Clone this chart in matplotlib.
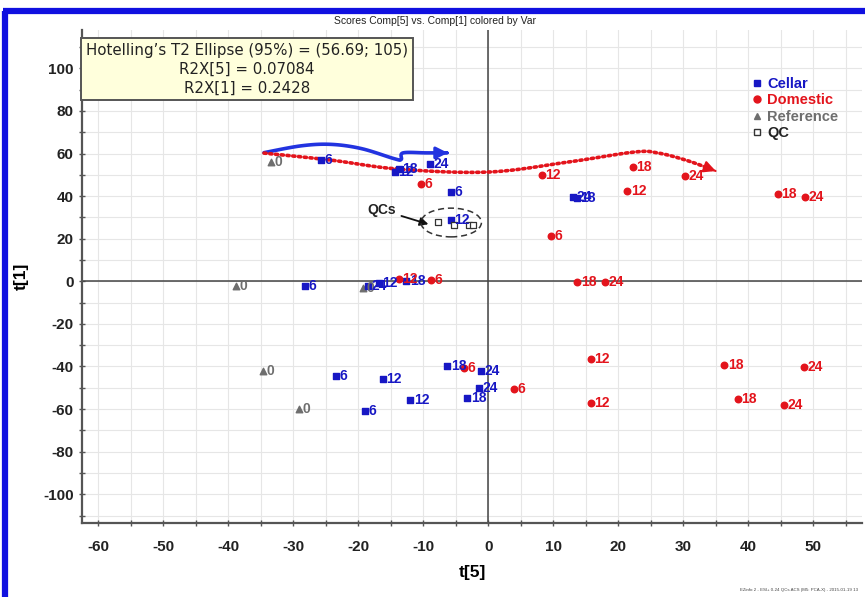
import numpy as np
import matplotlib
matplotlib.use("Agg")
import matplotlib.pyplot as plt
from matplotlib.patches import Ellipse
from matplotlib.lines import Line2D

# ---- score values (t[5], t[1]) and sampling-time labels ----
cellar_x = [-25.8, -14.4, -13.8, -8.9, -5.8, -5.8, 13.0, 13.6,
            -28.2, -18.5, -16.8, -12.6,
            -23.4, -16.2, -6.3, -1.1, -18.9, -12.0, -3.2, -1.4]
cellar_y = [57.0, 51.5, 52.5, 55.0, 42.0, 29.0, 39.5, 39.0,
            -2.4, -2.0, -0.8, 0.3,
            -44.6, -46.1, -40.0, -42.3, -61.0, -55.9, -55.0, -50.0]
cellar_lab = ["6", "12", "18", "24", "6", "12", "24", "18",
              "6", "24", "12", "18",
              "6", "12", "18", "24", "6", "12", "18", "24"]

domestic_x = [-10.3, 8.2, 22.2, 30.2, 9.7, 21.4, 44.6, 48.8,
              -8.8, -13.8, 13.7, 18.0,
              -3.7, 15.8, 36.3, 48.6, 4.0, 15.8, 38.4, 45.5]
domestic_y = [45.6, 49.9, 53.6, 49.4, 21.2, 42.4, 41.0, 39.5,
              0.5, 0.9, -0.5, -0.5,
              -40.5, -36.3, -39.4, -40.4, -50.8, -57.0, -55.5, -57.9]
domestic_lab = ["6", "12", "18", "24", "6", "12", "18", "24",
                "6", "12", "18", "24",
                "6", "12", "18", "24", "6", "12", "18", "24"]

reference_x = [-33.4, -38.8, -19.3, -34.6, -29.1]
reference_y = [56.0, -2.4, -3.3, -41.9, -60.2]
reference_lab = ["0", "0", "0", "0", "0"]

qc_x = [-7.8, -5.2, -3.0, -2.4]
qc_y = [27.8, 26.4, 26.4, 26.4]

# trend arrows (t[5], t[1]) drawn over the scores
cellar_trend_x = [-34.5, -28.8, -24.2, -19.5, -14.5, -13.4, -13.1, -9.5, -6.2]
cellar_trend_y = [60.4, 63.6, 64.3, 62.3, 57.6, 57.2, 60.3, 60.3, 60.3]
domestic_trend_x = [-34.5, -24.2, -13.8, 0.0, 12.3, 22.5, 26.2, 30.8, 35.4]
domestic_trend_y = [60.2, 56.9, 52.7, 51.3, 56.0, 60.7, 60.2, 56.5, 51.3]

x_ticks = [-60, -50, -40, -30, -20, -10, 0, 10, 20, 30, 40, 50]
y_ticks = [-100, -80, -60, -40, -20, 0, 20, 40, 60, 80, 100]

BLUE = "#1717C4"
RED = "#E3141C"
GRAY = "#6E6E6E"
TXT = "Liberation Sans"


def smooth(xs, ys, n=12):
    """Catmull-Rom curve through the given control points."""
    p = np.column_stack([xs, ys]).astype(float)
    p = np.vstack([p[0], p, p[-1]])
    out = []
    for i in range(1, len(p) - 2):
        p0, p1, p2, p3 = p[i - 1], p[i], p[i + 1], p[i + 2]
        for t in np.linspace(0, 1, n, endpoint=False):
            t2, t3 = t * t, t * t * t
            out.append(0.5 * ((2 * p1) + (-p0 + p2) * t
                              + (2 * p0 - 5 * p1 + 4 * p2 - p3) * t2
                              + (-p0 + 3 * p1 - 3 * p2 + p3) * t3))
    out.append(p[-2])
    out = np.array(out)
    return out[:, 0], out[:, 1]


fig = plt.figure(figsize=(8.65, 5.97), dpi=100)
fig.patch.set_facecolor("white")

# blue frame around the report panel
fig.add_artist(Line2D([5 / 865, 5 / 865], [0, 1 - 11 / 597], color="#1010E0",
                      lw=4.5, transform=fig.transFigure, solid_capstyle="butt"))
fig.add_artist(Line2D([3 / 865, 1.0], [1 - 11 / 597, 1 - 11 / 597], color="#1010E0",
                      lw=4.5, transform=fig.transFigure, solid_capstyle="butt"))

ax = fig.add_axes([82 / 865, 1 - 523 / 597, (862 - 82) / 865, (523 - 30) / 597])
ax.set_xlim(-62.5, 57.5)
ax.set_ylim(-113.5, 118)

ax.set_xticks(x_ticks)
ax.set_yticks(y_ticks)
ax.set_xticks(np.arange(-55, 60, 10), minor=True)
ax.set_yticks(np.arange(-110, 120, 20), minor=True)
ax.grid(True, which="both", color="#E6E6E6", lw=0.8, zorder=0)
ax.set_axisbelow(True)
for s in ["top", "right"]:
    ax.spines[s].set_visible(False)
for s in ["left", "bottom"]:
    ax.spines[s].set_color("#555555")
    ax.spines[s].set_linewidth(1.6)
ax.tick_params(which="both", direction="inout", length=5, width=1, color="#555555")
ax.tick_params(axis="x", pad=10)
ax.set_xticklabels([str(v) for v in x_ticks], fontsize=11, fontweight="bold",
                   family=TXT, color="#222222")
ax.set_yticklabels([str(v) for v in y_ticks], fontsize=11, fontweight="bold",
                   family=TXT, color="#222222")
ax.set_xlabel("t[5]", fontsize=12.5, fontweight="bold", family=TXT, labelpad=8)
ax.set_ylabel("t[1]", fontsize=12.5, fontweight="bold", family=TXT, labelpad=10)

ax.axhline(0, color="#444444", lw=1.1, zorder=1)
ax.axvline(0, color="#444444", lw=1.1, zorder=1)

fig.text(435 / 865, 1 - 21 / 597, "Scores Comp[5] vs. Comp[1] colored by Var",
         ha="center", va="center", fontsize=7.5, family=TXT, color="#222222")

# trend arrows
bx, by = smooth(cellar_trend_x, cellar_trend_y)
ax.plot(bx[:-2], by[:-2], color="#2233E0", lw=2.6, solid_capstyle="round", zorder=3)
ax.annotate("", xy=(bx[-1], by[-1]), xytext=(bx[-4], by[-4]),
            arrowprops=dict(arrowstyle="-|>,head_length=0.7,head_width=0.35",
                            color="#2233E0", lw=2.2), zorder=3)
rx, ry = smooth(domestic_trend_x, domestic_trend_y)
ax.plot(rx[:-3], ry[:-3], color=RED, lw=2.6, ls=(0, (0.6, 1.0)),
        dash_capstyle="round", zorder=3)
ax.annotate("", xy=(rx[-1], ry[-1]), xytext=(rx[-4], ry[-4]),
            arrowprops=dict(arrowstyle="-|>,head_length=0.7,head_width=0.35",
                            color=RED, lw=1.5), zorder=3)

# score points
ax.scatter(reference_x, reference_y, marker="^", s=22, color=GRAY, zorder=4)
ax.scatter(cellar_x, cellar_y, marker="s", s=18, color=BLUE, zorder=5)
ax.scatter(domestic_x, domestic_y, marker="o", s=22, color=RED, zorder=5)
ax.scatter(qc_x, qc_y, marker="s", s=18, facecolor="white", edgecolor="#333333",
           lw=0.9, zorder=5)


def label_points(xs, ys, labs, color):
    for x, y, t in zip(xs, ys, labs):
        ax.annotate(t, (x, y), xytext=(2.5, 0), textcoords="offset points",
                    ha="left", va="center", fontsize=10, fontweight="bold",
                    family=TXT, color=color, zorder=6)


label_points(reference_x, reference_y, reference_lab, GRAY)
label_points(cellar_x, cellar_y, cellar_lab, BLUE)
label_points(domestic_x, domestic_y, domestic_lab, RED)

# QC cluster highlight
ax.add_patch(Ellipse((-5.7, 27.6), 9.3, 13.5, fill=False, ls=(0, (4, 2.5)),
                     lw=1.1, edgecolor="#333333", zorder=4))
ax.annotate("QCs", xy=(-9.2, 26.8), xytext=(-18.6, 33.5),
            fontsize=10, fontweight="bold", family=TXT, color="#222222",
            va="center", ha="left",
            arrowprops=dict(arrowstyle="-|>,head_length=0.5,head_width=0.25",
                            color="#111111", lw=1.3, shrinkA=2, shrinkB=0))

# model statistics box
fig.text(247 / 865, 1 - 43 / 597, "Hotelling\u2019s T2 Ellipse (95%) = (56.69; 105)\n"
         "R2X[5] = 0.07084\nR2X[1] = 0.2428",
         ha="center", va="top", fontsize=10.8, family="DejaVu Sans",
         color="#222222", multialignment="center", linespacing=1.32,
         bbox=dict(boxstyle="square,pad=0.32", facecolor="#FFFFDC",
                   edgecolor="#555555", lw=1.4), zorder=7)

# legend
handles = [
    Line2D([], [], marker="s", ls="", color=BLUE, markersize=4.5),
    Line2D([], [], marker="o", ls="", color=RED, markersize=5),
    Line2D([], [], marker="^", ls="", color=GRAY, markersize=5),
    Line2D([], [], marker="s", ls="", markerfacecolor="white",
           markeredgecolor="#333333", markersize=4.5),
]
leg = ax.legend(handles, ["Cellar", "Domestic", "Reference", "QC"],
                loc="upper left", bbox_to_anchor=(745 / 865, 1 - 70 / 597),
                bbox_transform=fig.transFigure, frameon=False,
                handlelength=0.6, handletextpad=0.4, labelspacing=0.15,
                borderpad=0.0, prop=dict(family=TXT, weight="bold", size=10.5))
for t, c in zip(leg.get_texts(), [BLUE, RED, GRAY, "#222222"]):
    t.set_color(c)

fig.text(858 / 865, 1 - 590 / 597,
         "EZinfo 2 - ESI+ 0-24 QCs ACS (M5: PCA-X) - 2015-01-19 13",
         ha="right", va="center", fontsize=3.2, family=TXT, color="#444444")

fig.savefig("out.png", dpi=100)
